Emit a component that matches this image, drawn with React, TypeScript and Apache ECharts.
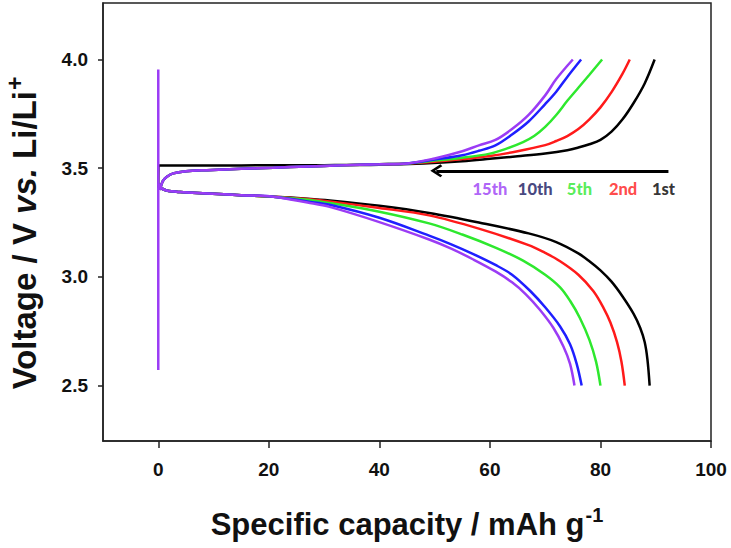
import React, { useEffect, useRef } from "react";
import * as echarts from "echarts";

const FONT = '"Liberation Sans", Arial, Helvetica, sans-serif';

// Cycle names and colours
const cycleNames = ["1st", "2nd", "5th", "10th", "15th"];
const cycleColors = ["#000000", "#ff1a1a", "#2ee82e", "#1f1fff", "#9b3cf5"];

// Charge curves (capacity mAh/g, voltage V)
const chargeStart = [
  [0.3, 3.40], [0.8, 3.44], [1.5, 3.46], [2.7, 3.476], [5, 3.486], [8.8, 3.491],
  [15, 3.497], [20.8, 3.502], [27, 3.508], [32.9, 3.513], [40, 3.518], [45, 3.522],
];
const charge1st = [
  [0, 3.41], [0.05, 3.513], [15, 3.513], [30, 3.514], [40, 3.516],
  [48, 3.522], [55, 3.532], [60, 3.543], [65, 3.555], [70, 3.568], [74, 3.583],
  [76, 3.595], [78, 3.61], [80, 3.63], [82, 3.668], [84, 3.725], [86, 3.80], [88, 3.89], [89.8, 4.0],
];
const charge2ndTail = [
  [50, 3.53], [55, 3.542], [60, 3.556], [65, 3.578], [70, 3.606], [72, 3.625], [74, 3.648],
  [76, 3.68], [78, 3.725], [80, 3.78], [82, 3.85], [84, 3.935], [85.3, 4.0],
];
const charge5thTail = [
  [50, 3.535], [55, 3.548], [60, 3.567], [63, 3.59], [66, 3.62], [68, 3.648], [70, 3.69],
  [72, 3.745], [74, 3.81], [76, 3.87], [78, 3.93], [80.3, 4.0],
];
const charge10thTail = [
  [50, 3.54], [55, 3.56], [58, 3.58], [61, 3.605], [64, 3.655], [67, 3.715], [70, 3.795],
  [72, 3.852], [74, 3.92], [76.5, 4.0],
];
const charge15thTail = [
  [50, 3.545], [55, 3.578], [58, 3.605], [61, 3.63], [64, 3.68], [67, 3.745], [70, 3.835],
  [72, 3.91], [75, 4.0],
];

// Discharge curves
const dischargeStart = [
  [0, 3.43], [0.5, 3.41], [1.5, 3.397], [4, 3.39], [8.8, 3.384], [15, 3.376], [20.8, 3.369],
];
const discharge1stTail = [
  [27, 3.36], [31, 3.352], [40, 3.327], [49, 3.294], [58, 3.25], [67, 3.20], [72, 3.16],
  [76, 3.108], [78, 3.072], [80, 3.03], [82, 2.978], [84, 2.91], [86, 2.83], [87.2, 2.765],
  [88, 2.70], [88.5, 2.62], [88.9, 2.5],
];
const discharge2ndTail = [
  [27, 3.358], [31, 3.347], [40, 3.317], [49, 3.283], [58, 3.222], [67, 3.146], [70, 3.11],
  [72.7, 3.072], [76, 3.01], [78.7, 2.935], [80.5, 2.86], [81.8, 2.79], [83, 2.70],
  [83.8, 2.61], [84.4, 2.5],
];
const discharge5thTail = [
  [27, 3.355], [31, 3.34], [40, 3.30], [49, 3.246], [55, 3.195], [61, 3.135], [66, 3.075],
  [70, 3.01], [72.7, 2.952], [74.5, 2.89], [76.3, 2.81], [78, 2.71], [79.2, 2.61], [80, 2.5],
];
const discharge10thTail = [
  [27, 3.347], [31, 3.332], [40, 3.272], [49, 3.19], [53, 3.15], [57, 3.105], [61, 3.055],
  [64, 3.01], [67.3, 2.935], [70, 2.86], [72.7, 2.772], [74.5, 2.69], [75.7, 2.6], [76.6, 2.5],
];
const discharge15thTail = [
  [27, 3.342], [31, 3.322], [40, 3.252], [49, 3.172], [53, 3.13], [57, 3.08], [61, 3.025],
  [64, 2.975], [66.5, 2.92], [69, 2.85], [71.5, 2.765], [73.3, 2.68], [74.5, 2.6], [75.3, 2.5],
];

// Vertical rest spike at zero capacity
const spikeData = [[0, 3.954], [0, 2.572]];

// Arrow and cycle labels
const arrowStart = [92.3, 3.488];
const arrowEnd = [50.3, 3.488];
const labelNames = ["15th", "10th", "5th", "2nd", "1st"];
const labelColors = ["#9b3cf5", "#16165e", "#2ee82e", "#ff1a1a", "#000000"];
const labelX = [60.0, 68.2, 76.2, 84.1, 91.4];
const labelV = 3.404;

// Axis ticks
const xTicks = [0, 20, 40, 60, 80, 100];
const yTicks = [2.5, 3.0, 3.5, 4.0];

const chargeCurves = [
  charge1st,
  [...chargeStart, ...charge2ndTail],
  [...chargeStart, ...charge5thTail],
  [...chargeStart, ...charge10thTail],
  [...chargeStart, ...charge15thTail],
];
const dischargeCurves = [
  [...dischargeStart, ...discharge1stTail],
  [...dischargeStart, ...discharge2ndTail],
  [...dischargeStart, ...discharge5thTail],
  [...dischargeStart, ...discharge10thTail],
  [...dischargeStart, ...discharge15thTail],
];

export default function App() {
  const ref = useRef<HTMLDivElement>(null);
  useEffect(() => {
    document.body.style.margin = "0";
    if (!ref.current) return;
    const chart = echarts.init(ref.current, undefined, { renderer: "svg" });
    const axisColor = "#222";
    const series: any[] = [];
    cycleNames.forEach((name, i) => {
      series.push({
        name: name + " charge",
        type: "line",
        data: chargeCurves[i],
        symbol: "none",
        smooth: 0.35,
        lineStyle: { color: cycleColors[i], width: 2.5 },
        z: 2 + i,
      });
      series.push({
        name: name + " discharge",
        type: "line",
        data: dischargeCurves[i],
        symbol: "none",
        smooth: 0.35,
        lineStyle: { color: cycleColors[i], width: 2.5 },
        z: 2 + i,
      });
    });
    series.push({
      name: "rest",
      type: "line",
      data: spikeData,
      symbol: "none",
      lineStyle: { color: "#9b3cf5", width: 2.5 },
      z: 8,
    });
    series.push({
      name: "arrow",
      type: "line",
      data: [],
      symbol: "none",
      z: 9,
      markLine: {
        silent: true,
        animation: false,
        symbol: ["none", "path://M50,0 L100,78 L86,92 L50,36 L14,92 L0,78 Z"],
        symbolSize: [13, 12],
        lineStyle: { color: "#000", width: 3, type: "solid" },
        label: { show: false },
        data: [[{ coord: arrowStart }, { coord: arrowEnd }]],
      },
    });
    series.push({
      name: "labels",
      type: "scatter",
      symbolSize: 1,
      itemStyle: { color: "rgba(0,0,0,0)" },
      z: 10,
      label: {
        show: true,
        position: "inside",
        formatter: (p: any) => p.name,
        fontFamily: "Lato, 'Open Sans', sans-serif",
        fontWeight: 900,
        fontSize: 16.5,
      },
      data: labelNames.map((n, i) => ({
        name: n,
        value: [labelX[i], labelV],
        label: { color: labelColors[i] },
      })),
    });

    chart.setOption({
      animation: false,
      backgroundColor: "#ffffff",
      grid: {
        left: 103,
        right: 20,
        top: 3,
        bottom: 107,
        outerBoundsMode: "none",
        containLabel: false,
        show: true,
        borderColor: axisColor,
        borderWidth: 1.5,
        backgroundColor: "transparent",
      },
      xAxis: {
        type: "value",
        min: -10,
        max: 100,
        splitLine: { show: false },
        axisLine: { show: true, onZero: false, lineStyle: { color: axisColor, width: 1.5 } },
        axisTick: { show: true, customValues: xTicks, length: 7, lineStyle: { color: axisColor, width: 1.5 } },
        axisLabel: {
          customValues: xTicks,
          margin: 19,
          fontSize: 19,
          fontWeight: "bold",
          color: "#111",
          fontFamily: FONT,
        },
        name: "{t|Specific capacity / mAh g}{sup|-1}",
        nameLocation: "middle",
        nameGap: 64,
        nameTextStyle: {
          rich: {
            t: { fontSize: 31, fontWeight: "bold", color: "#111", fontFamily: FONT },
            sup: { fontSize: 20, fontWeight: "bold", color: "#111", fontFamily: FONT, padding: [0, 0, 18, 1] },
          },
        },
      },
      yAxis: {
        type: "value",
        min: 2.245,
        max: 4.26,
        splitLine: { show: false },
        axisLine: { show: true, onZero: false, lineStyle: { color: axisColor, width: 1.5 } },
        axisTick: { show: true, customValues: yTicks, length: 5, lineStyle: { color: axisColor, width: 1.5 } },
        axisLabel: {
          customValues: yTicks,
          formatter: (v: number) => v.toFixed(1),
          margin: 15,
          fontSize: 19,
          fontWeight: "bold",
          color: "#111",
          fontFamily: FONT,
        },
        name: "{t|Voltage / V }{i|vs.}{t| Li/Li}{sup|+}",
        nameLocation: "middle",
        nameGap: 57,
        nameRotate: 90,
        nameTextStyle: {
          padding: [0, 22, 0, 0],
          rich: {
            t: { fontSize: 33, fontWeight: "bold", color: "#111", fontFamily: FONT },
            i: { fontSize: 33, fontWeight: "bold", fontStyle: "italic", color: "#111", fontFamily: FONT },
            sup: { fontSize: 23, fontWeight: "bold", color: "#111", fontFamily: FONT, padding: [0, 0, 20, 1] },
          },
        },
      },
      series,
    });
    return () => chart.dispose();
  }, []);
  return <div ref={ref} style={{ width: 731, height: 548 }} />;
}
